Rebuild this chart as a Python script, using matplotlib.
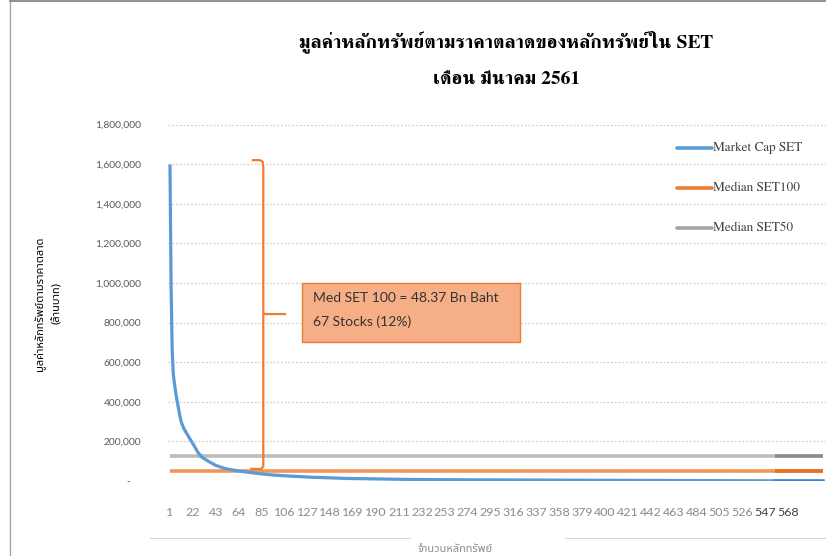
import matplotlib
matplotlib.use("Agg")
import matplotlib.pyplot as plt
import numpy as np
from matplotlib.patches import Rectangle
from matplotlib.lines import Line2D

# ---------------- data (million Baht) ----------------
market_cap_set = [
    1590000, 980000, 660000, 540000, 495000, 455000, 420000, 390000, 360000, 330000,
    305000, 288000, 274000, 262000, 252000, 243000, 234000, 225000, 216000, 207000,
    198000, 190000, 180000, 170000, 160000, 150000, 142000, 135000, 128000, 122000,
    118000, 114000, 110000, 107000, 104000, 100000, 97000, 94000, 91000, 88000,
    85000, 82000, 79000, 77000, 75000, 73000, 71000, 69000, 67000, 65500,
    64000, 62500, 61000, 60000, 59000, 58000, 57000, 56000, 55000, 54000,
    53000, 52000, 51200, 50500, 49800, 49100, 48400, 47600, 46800, 46000,
    45200, 44500, 43800, 43100, 42300, 41600, 40900, 40100, 39400, 38800,
    38100, 37500, 36800, 36200, 35600, 35000, 34500, 33900, 33400, 32800,
    32300, 31800, 31300, 30900, 30400, 30000, 29600, 29200, 28800, 28400,
    28000, 27700, 27300, 27000, 26600, 26300, 26000, 25600, 25300, 25000,
    24700, 24400, 24100, 23800, 23500, 23200, 22900, 22600, 22300, 22000,
    21700, 21400, 21100, 20900, 20600, 20300, 20100, 19800, 19600, 19300,
    19100, 18800, 18600, 18400, 18100, 17900, 17700, 17500, 17300, 17100,
    16900, 16700, 16500, 16300, 16100, 15900, 15700, 15500, 15300, 15200,
    15000, 14800, 14600, 14500, 14300, 14100, 14000, 13800, 13700, 13500,
    13400, 13200, 13100, 12900, 12800, 12700, 12500, 12400, 12300, 12100,
    12000, 11900, 11800, 11600, 11500, 11400, 11300, 11200, 11100, 11000,
    10900, 10800, 10700, 10600, 10500, 10400, 10300, 10200, 10100, 10000,
    9920, 9840, 9760, 9680, 9600, 9520, 9440, 9360, 9280, 9200,
    9120, 9050, 8980, 8900, 8830, 8760, 8700, 8640, 8570, 8500,
    8440, 8380, 8320, 8260, 8200, 8150, 8090, 8040, 7980, 7930,
    7880, 7830, 7780, 7730, 7680, 7640, 7590, 7550, 7500, 7460,
    7420, 7380, 7340, 7300, 7260, 7220, 7180, 7140, 7110, 7070,
    7030, 7000, 6960, 6930, 6890, 6860, 6830, 6800, 6760, 6730,
    6700, 6670, 6640, 6610, 6580, 6550, 6520, 6490, 6460, 6440,
    6410, 6380, 6350, 6330, 6300, 6270, 6250, 6220, 6200, 6170,
    6150, 6120, 6100, 6070, 6050, 6020, 6000, 5970, 5950, 5930,
    5900, 5880, 5860, 5830, 5810, 5790, 5770, 5740, 5720, 5700,
    5680, 5660, 5640, 5610, 5590, 5570, 5550, 5530, 5510, 5490,
    5470, 5450, 5430, 5410, 5390, 5370, 5350, 5330, 5310, 5290,
    5270, 5250, 5230, 5210, 5190, 5170, 5150, 5130, 5110, 5090,
    5070, 5050, 5030, 5010, 4990, 4970, 4950, 4930, 4910, 4890,
    4870, 4850, 4830, 4810, 4790, 4770, 4750, 4730, 4710, 4690,
    4670, 4650, 4630, 4610, 4590, 4570, 4550, 4530, 4510, 4490,
    4470, 4450, 4430, 4410, 4390, 4370, 4350, 4330, 4310, 4290,
    4270, 4250, 4230, 4210, 4190, 4170, 4150, 4130, 4110, 4090,
    4070, 4050, 4030, 4010, 3990, 3970, 3950, 3930, 3910, 3890,
    3870, 3850, 3830, 3810, 3790, 3770, 3750, 3730, 3710, 3690,
    3670, 3650, 3630, 3610, 3590, 3570, 3550, 3530, 3510, 3490,
    3470, 3450, 3430, 3410, 3400, 3380, 3360, 3340, 3320, 3300,
    3290, 3270, 3250, 3230, 3220, 3200, 3180, 3160, 3150, 3130,
    3110, 3100, 3080, 3060, 3050, 3030, 3010, 3000, 2980, 2960,
    2950, 2930, 2920, 2900, 2880, 2870, 2850, 2840, 2820, 2800,
    2780, 2760, 2740, 2720, 2700, 2680, 2660, 2640, 2620, 2600,
    2580, 2560, 2540, 2520, 2500, 2480, 2460, 2440, 2420, 2400,
    2380, 2360, 2340, 2320, 2300, 2280, 2260, 2240, 2220, 2200,
    2180, 2160, 2140, 2120, 2100, 2080, 2060, 2040, 2020, 2000,
    1980, 1960, 1940, 1920, 1900, 1880, 1860, 1840, 1820, 1800,
    1780, 1760, 1740, 1720, 1700, 1680, 1660, 1640, 1620, 1600,
    1580, 1560, 1540, 1520, 1500, 1480, 1460, 1440, 1420, 1400,
    1380, 1360, 1340, 1320, 1300, 1280, 1260, 1240, 1220, 1200,
    1180, 1160, 1140, 1120, 1100, 1080, 1060, 1040, 1020, 1000,
    980, 960, 940, 920, 900, 880, 860, 840, 820, 800,
    780, 760, 740, 720, 700, 680, 660, 640, 620, 600,
    580, 560, 540, 520, 500, 480, 460, 440, 420, 400,
    390, 380, 370, 360, 350, 340, 330, 320, 310, 300,
    290, 280, 270, 260, 250, 240, 230, 220, 210, 200,
    195, 190, 185, 180, 175, 170, 165, 160, 155, 150,
    145, 140, 135, 130, 125, 120, 115, 110, 105, 100,
]
median_set100 = 48370
median_set50 = 124000
series_names = ["Market Cap SET", "Median SET100", "Median SET50"]
x_tick_labels = [1, 22, 43, 64, 85, 106, 127, 148, 169, 190, 211, 232, 253, 274, 295,
                 316, 337, 358, 379, 400, 421, 442, 463, 484, 505, 526, 547, 568]
y_ticks = [0, 200000, 400000, 600000, 800000, 1000000, 1200000, 1400000, 1600000, 1800000]
title_line1 = "มูลค่าหลักทรัพย์ตามราคาตลาดของหลักทรัพย์ใน SET"
title_line2 = "เดือน มีนาคม 2561"
y_label_1 = "มูลค่าหลักทรัพย์ตามราคาตลาด"
y_label_2 = "(ล้านบาท)"
x_label = "จำนวนหลักทรัพย์"
note_line1 = "Med SET 100 = 48.37 Bn Baht"
note_line2 = "67 Stocks (12%)"
bracket_stock = 86.6
bracket_top = 1620000

# ---------------- styling ----------------
W, H = 826, 556
BLUE, ORANGE, GRAY = "#5B9BD5", "#ED7D31", "#A5A5A5"
BLUE_L, ORANGE_L, GRAY_L = "#6FA8DC", "#F29558", "#BDBDBD"

fig = plt.figure(figsize=(W / 100, H / 100), dpi=100)
fig.patch.set_facecolor("white")

ax_l, ax_r, ax_t, ax_b = 168, 826, 124.5, 481
ax = fig.add_axes([ax_l / W, (H - ax_b) / H, (ax_r - ax_l) / W, (ax_b - ax_t) / H])
ax.set_facecolor("none")

k = 1.09  # px per stock
xmin = 1 - 2 / k
xmax = xmin + (ax_r - ax_l) / k
ax.set_xlim(xmin, xmax)
ax.set_ylim(0, 1800000)

n = len(market_cap_set)
x = np.arange(1, n + 1)
cut = 556

ax.plot(x, np.full(n, median_set50), color=GRAY_L, lw=2.6, solid_capstyle="butt", zorder=3)
ax.plot(x, np.full(n, median_set100), color=ORANGE_L, lw=2.6, solid_capstyle="butt", zorder=3)
ax.plot(x, market_cap_set, color=BLUE, lw=2.3, solid_joinstyle="round", zorder=4)
# darker far-right portion as in reference
xr = x[x >= cut]
ax.plot(xr, np.full(len(xr), median_set50), color="#8E8E8E", lw=2.6, solid_capstyle="butt", zorder=3)
ax.plot(xr, np.full(len(xr), median_set100), color="#E8701F", lw=2.6, solid_capstyle="butt", zorder=3)
ax.plot(xr, np.array(market_cap_set)[x >= cut], color="#3F86C8", lw=2.3, zorder=4)

# grid
for yv in y_ticks:
    ax.axhline(yv, color="#D0D0D0", lw=0.9, ls=(0, (1.5, 1.5)), zorder=1)

for s in ax.spines.values():
    s.set_visible(False)

ax.set_yticks(y_ticks)
ax.set_yticklabels(["-    "] + [f"{v:,}" for v in y_ticks[1:]], fontfamily="Lato",
                   fontsize=7.4, color="#595959")
ax.set_xticks(x_tick_labels)
ax.set_xticklabels([str(v) for v in x_tick_labels], fontfamily="Lato", fontsize=8.9,
                   color="#8A8A8A")
for lbl in ax.get_xticklabels()[-2:]:
    lbl.set_color("#404040")
ax.tick_params(axis="both", length=0)
ax.tick_params(axis="y", pad=19)
ax.tick_params(axis="x", pad=18.5)

# bracket (brace) annotation
bx = bracket_stock
bot = 61000
mid = 843000
brace_x = [bx - 9.6, bx - 3, bx - 0.6, bx, bx, bx + 0.8, bx + 19.9]
brace_y = [bracket_top, bracket_top, bracket_top - 8000, bracket_top - 35000, mid + 10000, mid, mid]
ax.plot(brace_x, brace_y, color=ORANGE, lw=1.6, zorder=5, solid_joinstyle="round")
ax.plot([bx, bx, bx - 2, bx - 11], [mid, bot + 12000, bot, bot], color=ORANGE, lw=1.6,
        zorder=5, solid_joinstyle="round")

# annotation box
def px2x(px):
    return xmin + (px - ax_l) / k

def py2y(py):
    return (ax_b - py) / (ax_b - ax_t) * 1800000

bx0, bx1, by0, by1 = px2x(302), px2x(520), py2y(342), py2y(283)
ax.add_patch(Rectangle((bx0, by0), bx1 - bx0, by1 - by0, facecolor="#F6AE87",
                       edgecolor=ORANGE, lw=1.0, zorder=6))
ax.text(px2x(313), py2y(298), note_line1, fontfamily="Lato", fontsize=10, color="#333333",
        va="center", ha="left", zorder=7)
ax.text(px2x(313), py2y(322), note_line2, fontfamily="Lato", fontsize=10, color="#333333",
        va="center", ha="left", zorder=7)

# legend (manual, as in reference)
leg_rows = [(148.3, BLUE), (188.3, ORANGE), (228.3, GRAY)]
for (yy, col), name in zip(leg_rows, series_names):
    fig.add_artist(Line2D([677 / W, 712 / W], [(H - yy) / H] * 2, color=col, lw=2.6,
                          solid_capstyle="round"))
    fig.text(713 / W, (H - yy) / H, name, fontfamily="FreeSerif", fontsize=9.5,
             color="#404040", va="center", ha="left")

# titles
fig.text(506 / W, (H - 42) / H, title_line1, fontfamily="FreeSerif", fontweight="bold",
         fontsize=14, ha="center", va="center", color="black")
fig.text(507 / W, (H - 80) / H, title_line2, fontfamily="FreeSerif", fontweight="bold",
         fontsize=14, ha="center", va="center", color="black")

# axis titles
fig.text(39 / W, (H - 304) / H, y_label_1, fontfamily="Noto Sans Thai", fontweight="bold",
         fontsize=8, rotation=90, ha="center", va="center", color="black")
fig.text(57 / W, (H - 303) / H, y_label_2, fontfamily="Noto Sans Thai", fontweight="bold",
         fontsize=8, rotation=90, ha="center", va="center", color="black")
fig.text(455 / W, (H - 549) / H, x_label, fontfamily="Noto Sans Thai", fontsize=8,
         ha="center", va="center", color="#8C8C8C")

# frame lines of the screenshot
fig.add_artist(Line2D([10 / W, 10 / W], [0, 1], color="#A6A6A6", lw=1.0))
fig.add_artist(Line2D([10 / W, 1], [1 - 1 / H, 1 - 1 / H], color="#7F7F7F", lw=1.2))
fig.add_artist(Line2D([150 / W, 410 / W], [(H - 538) / H] * 2, color="#D9D9D9", lw=0.8))
fig.add_artist(Line2D([565 / W, 1], [(H - 538) / H] * 2, color="#D9D9D9", lw=0.8))

fig.savefig("out.png", dpi=100)
